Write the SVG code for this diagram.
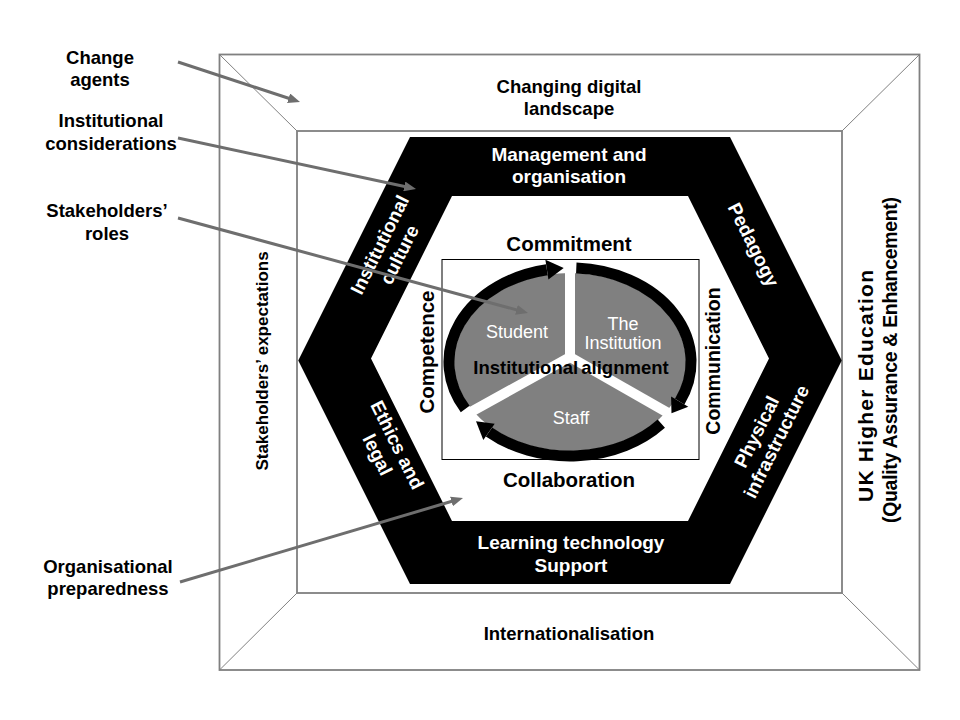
<svg xmlns="http://www.w3.org/2000/svg" width="960" height="720" viewBox="0 0 960 720">
<defs>
<style>
text{font-family:"Liberation Sans",Arial,sans-serif;}
.lbl{font-size:18.5px;font-weight:bold;fill:#000;text-anchor:middle;}
.hx{font-size:19px;font-weight:bold;fill:#fff;text-anchor:middle;}
.ax{font-size:20.5px;font-weight:bold;fill:#000;text-anchor:middle;}
.pie{font-size:18px;fill:#fff;text-anchor:middle;}
.frame{fill:none;stroke:#808080;stroke-width:1.8;}
.diag{fill:none;stroke:#808080;stroke-width:1;}
.conn{fill:none;stroke:#6e6e6e;stroke-width:3;marker-end:url(#ah);}
.ring{fill:none;stroke:#000;stroke-width:11;}
.spoke{stroke:#fff;stroke-width:10;}
</style>
<marker id="ah" viewBox="0 0 12 10" refX="4" refY="5" markerWidth="12" markerHeight="10" markerUnits="userSpaceOnUse" orient="auto">
<path d="M0,0 L12,5 L0,10 z" fill="#6e6e6e"/>
</marker>
</defs>
<rect width="960" height="720" fill="#fff"/>

<g id="frame">
<rect class="frame" x="219.5" y="54.5" width="700" height="615.5"/>
<rect class="frame" x="297" y="131" width="545" height="462" fill="#fff"/>
<line class="diag" x1="219.5" y1="54.5" x2="297" y2="131"/>
<line class="diag" x1="919.5" y1="54.5" x2="842" y2="131"/>
<line class="diag" x1="919.5" y1="670" x2="842" y2="593"/>
<line class="diag" x1="219.5" y1="670" x2="297" y2="593"/>
</g>

<g id="digital-landscape">
<text class="lbl" x="569" y="93">Changing digital</text>
<text class="lbl" x="569" y="115">landscape</text>
</g>
<g id="internationalisation">
<text class="lbl" x="569" y="640">Internationalisation</text>
</g>
<g id="stakeholders-expectations">
<text class="lbl" style="font-size:17px" transform="translate(268,361) rotate(-90)">Stakeholders’ expectations</text>
</g>
<g id="uk-he">
<text class="lbl" style="font-size:21px" transform="translate(873,386) rotate(-90)" textLength="232" lengthAdjust="spacing">UK Higher Education</text>
<text class="lbl" style="font-size:19.5px" transform="translate(897,360) rotate(-90)" textLength="326" lengthAdjust="spacing">(Quality Assurance &amp; Enhancement)</text>
</g>

<g id="hexagon">
<path fill="#000" fill-rule="evenodd" d="M410,137 L730,137 L841.75,360.5 L730,584 L410,584 L298.25,360.5 Z M452,196 L688,196 L769,358.5 L688,521 L452,521 L371,358.5 Z"/>
</g>
<g id="management">
<text class="hx" x="569" y="161">Management and</text>
<text class="hx" x="569" y="183">organisation</text>
</g>
<g id="learning-tech">
<text class="hx" x="571" y="549">Learning technology</text>
<text class="hx" x="571" y="572">Support</text>
</g>
<g id="institutional-culture" transform="translate(390,250) rotate(-63.5)">
<text class="hx" x="0" y="-5">Institutional</text>
<text class="hx" x="0" y="17">culture</text>
</g>
<g id="pedagogy" transform="translate(753,245) rotate(63.5)">
<text class="hx" x="0" y="6">Pedagogy</text>
</g>
<g id="ethics" transform="translate(387,450) rotate(63.5)">
<text class="hx" x="0" y="-5">Ethics and</text>
<text class="hx" x="0" y="17">legal</text>
</g>
<g id="physical" transform="translate(767,437) rotate(-63.5)">
<text class="hx" x="0" y="-5">Physical</text>
<text class="hx" x="0" y="17">infrastructure</text>
</g>

<g id="commitment"><text class="ax" x="569" y="251">Commitment</text></g>
<g id="collaboration"><text class="ax" x="569" y="487">Collaboration</text></g>
<g id="competence"><text class="ax" transform="translate(434,352) rotate(-90)">Competence</text></g>
<g id="communication"><text class="ax" style="font-size:19.5px" transform="translate(720,361) rotate(-90)">Communication</text></g>

<g id="alignment-box">
<rect x="442" y="259.5" width="257" height="200" fill="#fff" stroke="#000" stroke-width="1"/>
<ellipse cx="570" cy="362" rx="116" ry="89" fill="#808080"/>
<line class="spoke" x1="570" y1="357" x2="570" y2="262"/>
<line class="spoke" x1="570" y1="357" x2="447.6" y2="424.9"/>
<line class="spoke" x1="570" y1="357" x2="691.6" y2="426.4"/>
<path class="ring" d="M465.2,409 A121,94 0 0 1 546.9,269.7"/>
<polygon points="545.4,259.8 563.7,268.1 548.4,279.6" fill="#000"/>
<path class="ring" d="M576.3,268.1 A121,94 0 0 1 679.7,401.7"/>
<polygon points="688.3,406.8 671.5,413.2 671.1,396.6" fill="#000"/>
<path class="ring" d="M661.3,423.7 A121,94 0 0 1 489,431.9"/>
<polygon points="483.3,440.1 476,421.2 494.7,423.7" fill="#000"/>
</g>
<g id="student"><text class="pie" x="517" y="338">Student</text></g>
<g id="institution">
<text class="pie" x="623" y="330">The</text>
<text class="pie" x="623" y="349">Institution</text>
</g>
<g id="staff"><text class="pie" x="571" y="424">Staff</text></g>
<g id="alignment"><text class="ax" style="font-size:18.5px;word-spacing:-2px" x="571" y="374">Institutional alignment</text></g>

<g id="change-agents">
<text class="lbl" x="100" y="64">Change</text>
<text class="lbl" x="100" y="86">agents</text>
</g>
<g id="institutional-considerations">
<text class="lbl" x="111" y="127">Institutional</text>
<text class="lbl" x="111" y="150">considerations</text>
</g>
<g id="stakeholders-roles">
<text class="lbl" x="107" y="217">Stakeholders’</text>
<text class="lbl" x="107" y="240">roles</text>
</g>
<g id="organisational-preparedness">
<text class="lbl" x="108" y="573">Organisational</text>
<text class="lbl" x="108" y="595">preparedness</text>
</g>

<g id="connectors">
<line class="conn" x1="178" y1="62" x2="292.4" y2="99.5"/>
<line class="conn" x1="178" y1="138" x2="408.2" y2="187.3"/>
<line class="conn" x1="178" y1="218" x2="520.3" y2="310.9"/>
<line class="conn" x1="180" y1="582" x2="455.3" y2="500.3"/>
</g>
</svg>
